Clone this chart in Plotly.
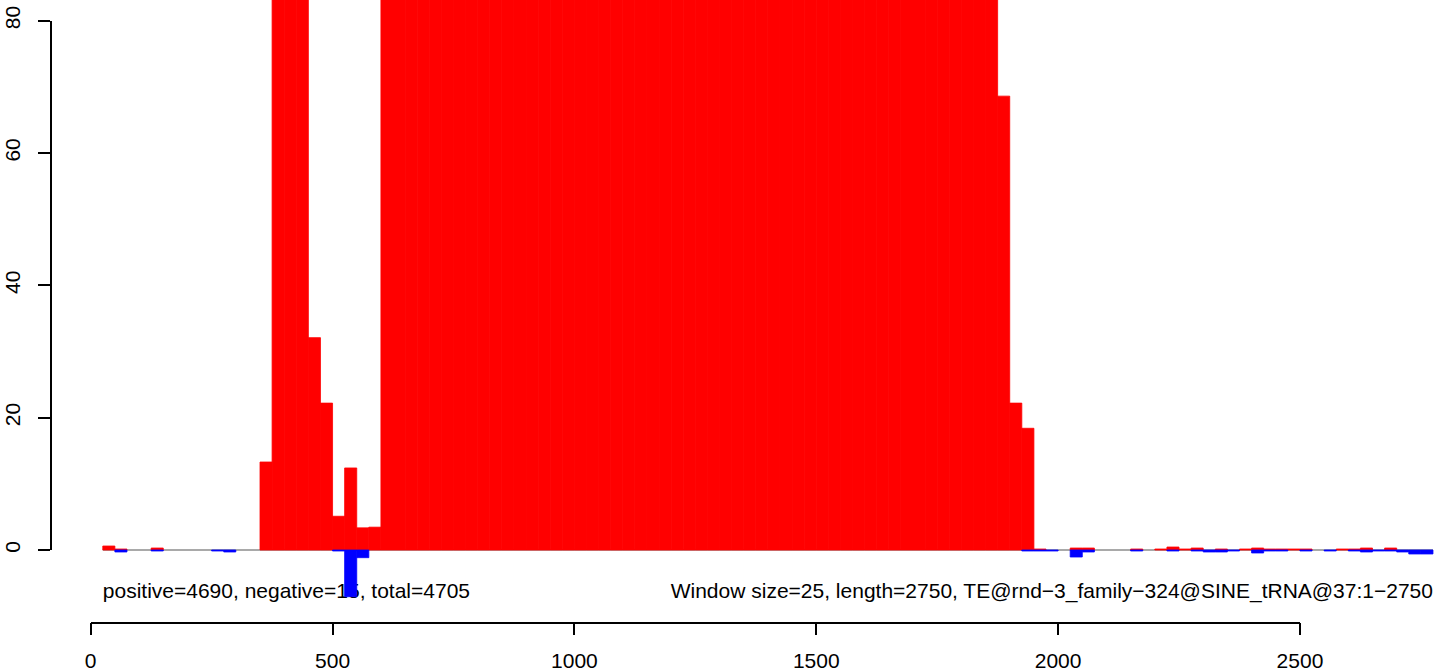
import plotly.graph_objects as go

# ---- data -------------------------------------------------------------
window_size = 25
window_start = list(range(25, 2751, 25))  # 110 windows, 25..2750

positive = [
    0.6, 0.15, 0, 0, 0.3, 0, 0, 0, 0, 0,            # 25..250
    0, 0, 0, 13.3, 86.0, 88.5, 87.2, 32.1, 22.2, 5.1,  # 275..500
    12.4, 3.35, 3.45, 85.4, 86.9, 88.1, 87.6, 86.2, 85.8, 87.3,  # 525..750
    88.0, 86.7, 85.9, 87.4, 88.3, 86.5, 85.6, 87.1, 88.2, 86.8,  # 775..1000
    85.7, 87.5, 88.4, 86.3, 85.5, 87.0, 88.1, 86.6, 85.8, 87.2,  # 1025..1250
    88.0, 86.4, 85.9, 87.3, 88.2, 86.7, 85.6, 87.1, 88.3, 86.5,  # 1275..1500
    85.8, 87.4, 88.0, 86.2, 85.7, 87.0, 88.1, 86.9, 85.5, 87.2,  # 1525..1750
    86.1, 85.4, 84.6, 85.9, 68.6, 22.2, 18.4, 0.15, 0, 0, 0.3,  # 1775..2025
    0.3, 0, 0, 0, 0.15, 0, 0.15, 0.45, 0.15, 0.3,               # 2050..2275
    0, 0.15, 0, 0.15, 0.3, 0.15, 0.15, 0.15, 0.15, 0,           # 2300..2525
    0, 0.15, 0.15, 0.3, 0, 0.3, 0, 0, 0,                        # 2550..2750
]
negative = [
    0, -0.3, 0, 0, -0.15, 0, 0, 0, 0, -0.15,        # 25..250
    -0.3, 0, 0, 0, 0, 0, 0, 0, 0, -0.15,            # 275..500
    -7.06, -1.16, 0, 0, 0, 0, 0, 0, 0, 0,           # 525..750
    0, 0, 0, 0, 0, 0, 0, 0, 0, 0,                   # 775..1000
    0, 0, 0, 0, 0, 0, 0, 0, 0, 0,                   # 1025..1250
    0, 0, 0, 0, 0, 0, 0, 0, 0, 0,                   # 1275..1500
    0, 0, 0, 0, 0, 0, 0, 0, 0, 0,                   # 1525..1750
    0, 0, 0, 0, 0, 0, -0.15, -0.15, -0.15, 0, -1.06,  # 1775..2025
    -0.3, 0, 0, 0, -0.15, 0, 0, -0.15, 0, -0.15,    # 2050..2275
    -0.3, -0.3, -0.15, 0, -0.45, -0.15, -0.15, 0, -0.15, 0,  # 2300..2525
    -0.15, 0, -0.15, -0.3, -0.15, -0.15, -0.3, -0.6, -0.6,   # 2550..2750
]
x_ticks = [0, 500, 1000, 1500, 2000, 2500]
y_ticks = [0, 20, 40, 60, 80]
label_left = "positive=4690, negative=15, total=4705"
label_right = "Window size=25, length=2750, TE@rnd\u22123_family\u2212324@SINE_tRNA@37:1\u22122750"

# ---- figure ------------------------------------------------------------
W, H = 1444, 669
centers = [s + window_size / 2 for s in window_start]
FONT = "Liberation Sans, Arial, Helvetica, sans-serif"
seq_start = window_start[0]
seq_end = window_start[-1] + window_size
# empty windows draw nothing (avoid zero-height outlined bars)
pos_plot = [v if v != 0 else None for v in positive]
neg_plot = [v if v != 0 else None for v in negative]

fig = go.Figure()
# text labels on the base subplot (drawn underneath the bars, like in R)
fig.add_trace(go.Scatter(x=[seq_start], y=[-6.45], mode="text", text=[label_left],
                         textposition="middle right",
                         textfont=dict(family=FONT, size=21, color="black"),
                         showlegend=False, hoverinfo="skip"))
fig.add_trace(go.Scatter(x=[seq_end], y=[-6.45], mode="text", text=[label_right],
                         textposition="middle left",
                         textfont=dict(family=FONT, size=21, color="black"),
                         showlegend=False, hoverinfo="skip"))
# bars on an overlaying subplot
fig.add_trace(go.Bar(x=centers, y=pos_plot, width=window_size, base=0,
                     xaxis="x3", yaxis="y3",
                     marker=dict(color="#FF0000", line=dict(width=0.8, color="#FF0000")),
                     showlegend=False, hoverinfo="skip"))
fig.add_trace(go.Bar(x=centers, y=neg_plot, width=window_size, base=0,
                     xaxis="x3", yaxis="y3",
                     marker=dict(color="#0000FF", line=dict(width=0.8, color="#0000FF")),
                     showlegend=False, hoverinfo="skip"))
# invisible trace to create the R-style axes subplot
fig.add_trace(go.Scatter(x=[0], y=[0], xaxis="x2", yaxis="y2", mode="markers",
                         marker=dict(opacity=0), showlegend=False, hoverinfo="skip"))

# baseline
fig.add_shape(type="line", xref="x", yref="y",
              x0=seq_start, x1=seq_end, y0=0, y1=0,
              line=dict(color="#A9A9A9", width=2), layer="below")

# pixel -> data mapping
px_per_x = 0.4837
x0_px = 90.7
px_per_y = 6.616
y0_px = 550.0
xr = [(0 - x0_px) / px_per_x, (W - x0_px) / px_per_x]
yr = [(y0_px - H) / px_per_y, y0_px / px_per_y]

fig.update_layout(
    width=W, height=H,
    margin=dict(l=0, r=0, t=0, b=0, pad=0, autoexpand=False),
    paper_bgcolor="white", plot_bgcolor="rgba(0,0,0,0)",
    barmode="overlay",
    font=dict(family=FONT, size=21, color="black"),
    xaxis=dict(domain=[0, 1], range=xr, visible=False, fixedrange=True),
    yaxis=dict(domain=[0, 1], range=yr, visible=False, fixedrange=True),
    xaxis3=dict(overlaying="x", range=xr, visible=False, fixedrange=True),
    yaxis3=dict(overlaying="y", range=yr, visible=False, fixedrange=True),
    xaxis2=dict(domain=[x0_px / W, (x0_px + 2500 * px_per_x) / W], range=[0, 2500],
                anchor="free", position=(H - 622.7) / H,
                showline=True, linecolor="black", linewidth=1.5,
                ticks="outside", ticklen=12, tickwidth=1.5, tickcolor="black",
                tickvals=x_ticks, ticktext=[str(v) for v in x_ticks],
                tickfont=dict(family=FONT, size=21, color="black"),
                ticklabelstandoff=7, automargin=False,
                showgrid=False, zeroline=False, fixedrange=True),
    yaxis2=dict(domain=[(H - y0_px) / H, (H - (y0_px - 80 * px_per_y)) / H], range=[0, 80],
                anchor="free", position=50.7 / W, side="left",
                showline=True, linecolor="black", linewidth=1.5,
                ticks="outside", ticklen=12, tickwidth=1.5, tickcolor="black",
                tickvals=y_ticks, ticktext=[str(v) for v in y_ticks],
                tickangle=-90,
                tickfont=dict(family=FONT, size=21, color="black"),
                ticklabelstandoff=10, automargin=False,
                showgrid=False, zeroline=False, fixedrange=True),
)

fig.write_html(
    "out.html",
    config={"displayModeBar": False},
    post_script="document.body.style.margin='0';document.body.style.padding='0';",
)
